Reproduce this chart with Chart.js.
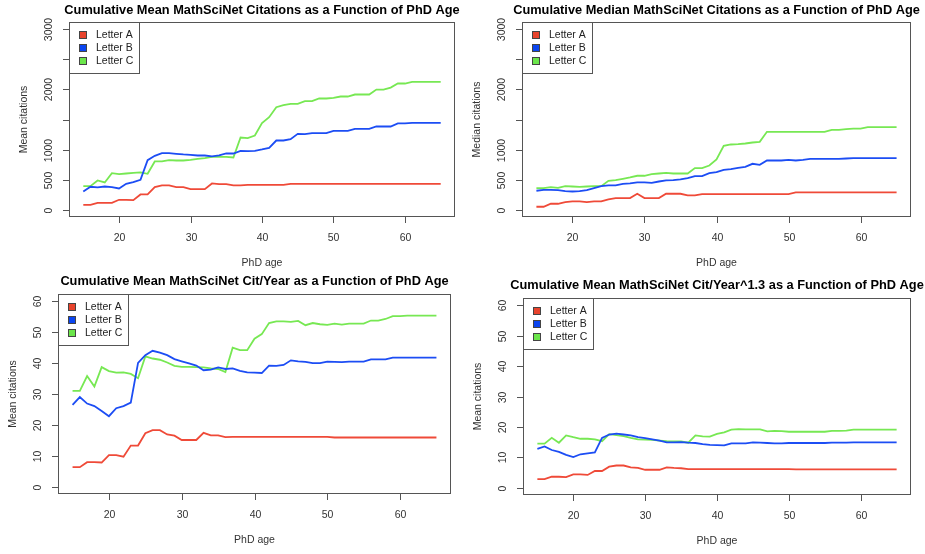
<!DOCTYPE html>
<html>
<head>
<meta charset="utf-8">
<script src="https://cdn.jsdelivr.net/npm/chart.js@4.4.0/dist/chart.umd.min.js"></script>
<style>
  html, body { margin: 0; padding: 0; background: #fff; }
  #wrap { position: relative; width: 925px; height: 554px; overflow: hidden; }
  canvas { position: absolute; }
</style>
</head>
<body>
<div id="wrap">
  <canvas id="c1" width="462" height="270" style="left:0;top:0"></canvas>
  <canvas id="c2" width="463" height="270" style="left:462px;top:0"></canvas>
  <canvas id="c3" width="462" height="284" style="left:0;top:270px"></canvas>
  <canvas id="c4" width="463" height="284" style="left:462px;top:270px"></canvas>
</div>
<script>
// PhD age (x) for every series
const ages = [15, 16, 17, 18, 19, 20, 21, 22, 23, 24, 25, 26, 27, 28, 29, 30, 31, 32, 33, 34,
  35, 36, 37, 38, 39, 40, 41, 42, 43, 44, 45, 46, 47, 48, 49, 50, 51, 52, 53, 54,
  55, 56, 57, 58, 59, 60, 61, 62, 63, 64, 65];

const seriesNames = ["Letter A", "Letter B", "Letter C"];

// cumulative mean citations
const meanA = [83, 83, 116, 116, 116, 166, 166, 160, 255, 255, 376, 404, 404, 376, 376, 343, 343, 343, 437, 426,
  426, 404, 404, 415, 415, 415, 415, 415, 415, 432, 432, 432, 432, 432, 432, 432, 432, 432, 432, 432,
  432, 432, 432, 432, 432, 432, 432, 432, 432, 432, 432];
const meanB = [304, 382, 371, 387, 376, 354, 432, 459, 498, 825, 897, 941, 941, 930, 919, 913, 902, 902, 886, 902,
  935, 935, 980, 974, 980, 1002, 1029, 1151, 1151, 1173, 1262, 1256, 1273, 1273, 1273, 1312, 1312, 1312, 1345, 1345,
  1345, 1384, 1384, 1384, 1434, 1434, 1445, 1445, 1445, 1445, 1445];
const meanC = [393, 393, 487, 454, 609, 592, 603, 614, 620, 598, 803, 803, 825, 819, 819, 830, 847, 858, 880, 880,
  880, 869, 1201, 1190, 1234, 1439, 1539, 1705, 1738, 1760, 1760, 1804, 1804, 1849, 1849, 1860, 1882, 1882, 1915, 1915,
  1915, 1998, 1998, 2031, 2098, 2098, 2125, 2125, 2125, 2125, 2125];

// cumulative median citations
const medA = [50, 50, 100, 100, 127, 138, 138, 127, 138, 138, 172, 194, 194, 194, 266, 194, 194, 194, 266, 266,
  266, 238, 238, 260, 260, 260, 260, 260, 260, 260, 260, 260, 260, 260, 260, 260, 288, 288, 288, 288,
  288, 288, 288, 288, 288, 288, 288, 288, 288, 288, 288];
const medB = [316, 332, 332, 327, 310, 304, 310, 327, 360, 393, 404, 404, 432, 437, 454, 454, 448, 470, 487, 493,
  504, 526, 559, 559, 609, 625, 664, 675, 697, 714, 764, 747, 819, 819, 819, 830, 819, 830, 847, 847,
  847, 847, 847, 852, 858, 858, 858, 858, 858, 858, 858];
const medC = [360, 360, 376, 365, 393, 387, 382, 387, 393, 393, 482, 493, 515, 537, 565, 565, 592, 603, 614, 603,
  603, 603, 692, 692, 736, 836, 1063, 1085, 1090, 1101, 1118, 1129, 1295, 1295, 1295, 1295, 1295, 1295, 1295, 1295,
  1295, 1328, 1328, 1339, 1350, 1350, 1373, 1373, 1373, 1373, 1373];

// cumulative mean citations per year
const perYrA = [6.3, 6.3, 7.9, 7.9, 7.8, 10.2, 10.2, 9.7, 13.3, 13.3, 17.3, 18.3, 18.3, 16.9, 16.5, 15.1, 15.1, 15.1, 17.4, 16.6,
  16.6, 16.0, 16.1, 16.1, 16.1, 16.1, 16.1, 16.1, 16.1, 16.1, 16.1, 16.1, 16.1, 16.1, 16.1, 16.1, 15.9, 15.9, 15.9, 15.9,
  15.9, 15.9, 15.9, 15.9, 15.9, 15.9, 15.9, 15.9, 15.9, 15.9, 15.9];
const perYrB = [26.5, 29.0, 26.9, 26.1, 24.5, 22.8, 25.4, 26.1, 27.2, 40.1, 42.6, 44.0, 43.4, 42.6, 41.3, 40.6, 39.9, 39.2, 37.7, 37.9,
  38.6, 38.1, 38.3, 37.5, 37.0, 36.9, 36.8, 39.2, 39.1, 39.4, 40.9, 40.6, 40.4, 40.0, 40.0, 40.5, 40.4, 40.3, 40.5, 40.5,
  40.5, 41.2, 41.2, 41.2, 41.8, 41.8, 41.8, 41.8, 41.8, 41.8, 41.8];
const perYrC = [31.0, 31.0, 35.8, 32.4, 38.7, 37.4, 36.9, 37.0, 36.5, 35.1, 42.2, 41.5, 41.1, 40.2, 39.1, 38.8, 38.8, 38.7, 38.6, 38.3,
  38.1, 37.1, 45.0, 44.2, 44.2, 47.9, 49.4, 53.0, 53.5, 53.5, 53.4, 53.7, 52.3, 53.0, 52.6, 52.4, 52.8, 52.5, 52.8, 52.8,
  52.8, 53.8, 53.8, 54.3, 55.2, 55.2, 55.4, 55.4, 55.4, 55.4, 55.4];

// cumulative mean citations per year^1.3
const perYr13A = [2.8, 2.8, 3.6, 3.6, 3.5, 4.4, 4.4, 4.2, 5.5, 5.5, 6.9, 7.3, 7.3, 6.7, 6.5, 5.9, 5.9, 5.9, 6.7, 6.5,
  6.4, 6.1, 6.1, 6.1, 6.1, 6.1, 6.1, 6.1, 6.1, 6.1, 6.1, 6.1, 6.1, 6.1, 6.1, 6.1, 6.0, 6.0, 6.0, 6.0,
  6.0, 6.0, 6.0, 6.0, 6.0, 6.0, 6.0, 6.0, 6.0, 6.0, 6.0];
const perYr13B = [12.8, 13.6, 12.4, 11.8, 10.8, 10.1, 11.0, 11.3, 11.6, 16.4, 17.5, 17.8, 17.5, 17.2, 16.6, 16.3, 15.9, 15.5, 14.9, 14.9,
  15.0, 14.8, 14.7, 14.3, 14.1, 14.0, 13.9, 14.6, 14.6, 14.6, 14.9, 14.8, 14.7, 14.6, 14.6, 14.7, 14.7, 14.7, 14.7, 14.7,
  14.7, 14.8, 14.8, 14.8, 14.9, 14.9, 14.9, 14.9, 14.9, 14.9, 14.9];
const perYr13C = [14.5, 14.5, 16.4, 14.8, 17.2, 16.6, 16.1, 16.1, 15.9, 15.3, 17.6, 17.3, 17.0, 16.4, 15.9, 15.8, 15.7, 15.5, 15.3, 15.2,
  15.2, 14.8, 17.2, 16.9, 16.8, 17.7, 18.2, 19.1, 19.3, 19.2, 19.2, 19.2, 18.5, 18.7, 18.6, 18.4, 18.4, 18.4, 18.4, 18.4,
  18.4, 18.7, 18.7, 18.8, 19.1, 19.1, 19.1, 19.1, 19.1, 19.1, 19.1];

// axis ticks
const ageTicks = [20, 30, 40, 50, 60];
const citeTicks = [0, 500, 1000, 1500, 2000, 2500, 3000];
const citeTickLabels = ["0", "500", "1000", "", "2000", "", "3000"];
const rateTicks = [0, 10, 20, 30, 40, 50, 60];
const rateTickLabels = ["0", "10", "20", "30", "40", "50", "60"];

const lineColors = ["#EF4A38", "#1C4DF4", "#77E853"];
const boxColors = ["#E8432C", "#0B45F0", "#6BE64B"];
const FONT = '"Liberation Sans", Arial, Helvetica, sans-serif';

// draws the base-graphics look: box, outward ticks, rotated y labels, titles, legend
const rStyle = {
  id: "rStyle",
  afterDraw(chart, args, o) {
    const ctx = chart.ctx;
    const a = chart.chartArea;
    const xs = chart.scales.x, ys = chart.scales.y;
    ctx.save();
    ctx.strokeStyle = "#555";
    ctx.lineWidth = 1;
    ctx.strokeRect(Math.round(a.left) + 0.5, Math.round(a.top) + 0.5,
      Math.round(a.right - a.left) - 1, Math.round(a.bottom - a.top) - 1);

    ctx.fillStyle = "#333";
    ctx.font = "10.5px " + FONT;
    ctx.textAlign = "center";
    ctx.textBaseline = "middle";
    o.xTicks.forEach(v => {
      const px = Math.round(xs.getPixelForValue(v)) + 0.5;
      ctx.beginPath();
      ctx.moveTo(px, a.bottom);
      ctx.lineTo(px, a.bottom + 6);
      ctx.stroke();
      ctx.fillText(String(v), px, a.bottom + 21);
    });
    o.yTicks.forEach((v, i) => {
      const py = Math.round(ys.getPixelForValue(v)) + 0.5;
      ctx.beginPath();
      ctx.moveTo(a.left, py);
      ctx.lineTo(a.left - 6, py);
      ctx.stroke();
      if (o.yLabels[i]) {
        ctx.save();
        ctx.translate(a.left - 20, py);
        ctx.rotate(-Math.PI / 2);
        ctx.fillText(o.yLabels[i], 0, 0);
        ctx.restore();
      }
    });

    // axis titles
    ctx.fillText("PhD age", (a.left + a.right) / 2, a.bottom + 46);
    ctx.save();
    ctx.translate(a.left - 45, (a.top + a.bottom) / 2);
    ctx.rotate(-Math.PI / 2);
    ctx.fillText(o.yTitle, 0, 0);
    ctx.restore();

    // main title
    ctx.fillStyle = "#000";
    ctx.font = "bold 12.8px " + FONT;
    ctx.fillText(o.title, (a.left + a.right) / 2, a.top - o.titleGap);

    // legend
    const lw = 70, lh = 51;
    ctx.fillStyle = "#fff";
    ctx.fillRect(a.left, a.top, lw, lh);
    ctx.strokeStyle = "#555";
    ctx.strokeRect(Math.round(a.left) + 0.5, Math.round(a.top) + 0.5, lw, lh);
    ctx.font = "10.5px " + FONT;
    ctx.textAlign = "left";
    chart.data.datasets.forEach((ds, i) => {
      const cy = Math.round(a.top + 13 + i * 13);
      ctx.fillStyle = boxColors[i];
      ctx.fillRect(Math.round(a.left) + 10, cy - 4, 8, 8);
      ctx.strokeStyle = "#444";
      ctx.strokeRect(Math.round(a.left) + 10.5, cy - 3.5, 7, 7);
      ctx.fillStyle = "#222";
      ctx.fillText(ds.label, a.left + 27, cy + 0.5);
    });
    ctx.restore();
  }
};

function makePanel(id, pad, yMin, yMax, series, opts) {
  const datasets = series.map((vals, i) => ({
    label: seriesNames[i],
    data: ages.map((age, j) => ({ x: age, y: vals[j] })),
    borderColor: lineColors[i],
    borderWidth: 1.8,
    pointRadius: 0,
    tension: 0,
    fill: false
  }));
  return new Chart(document.getElementById(id), {
    type: "line",
    data: { datasets: datasets },
    options: {
      responsive: false,
      animation: false,
      events: [],
      layout: { padding: pad },
      scales: {
        x: { type: "linear", min: 13, max: 67, display: false },
        y: { type: "linear", min: yMin, max: yMax, display: false }
      },
      plugins: {
        legend: { display: false },
        tooltip: { enabled: false },
        title: { display: false },
        rStyle: opts
      }
    },
    plugins: [rStyle]
  });
}

makePanel("c1", { left: 69, top: 22, right: 7, bottom: 53 }, -120, 3120, [meanA, meanB, meanC], {
  title: "Cumulative Mean MathSciNet Citations as a Function of PhD Age",
  yTitle: "Mean citations", titleGap: 12,
  xTicks: ageTicks, yTicks: citeTicks, yLabels: citeTickLabels
});
makePanel("c2", { left: 60, top: 22, right: 14, bottom: 53 }, -120, 3120, [medA, medB, medC], {
  title: "Cumulative Median MathSciNet Citations as a Function of PhD Age",
  yTitle: "Median citations", titleGap: 12,
  xTicks: ageTicks, yTicks: citeTicks, yLabels: citeTickLabels
});
makePanel("c3", { left: 58, top: 24, right: 11, bottom: 60 }, -2.4, 62.4, [perYrA, perYrB, perYrC], {
  title: "Cumulative Mean MathSciNet Cit/Year as a Function of PhD Age",
  yTitle: "Mean citations", titleGap: 12.5,
  xTicks: ageTicks, yTicks: rateTicks, yLabels: rateTickLabels
});
makePanel("c4", { left: 61, top: 28, right: 14, bottom: 59 }, -2.4, 62.4, [perYr13A, perYr13B, perYr13C], {
  title: "Cumulative Mean MathSciNet Cit/Year^1.3 as a Function of PhD Age",
  yTitle: "Mean citations", titleGap: 13,
  xTicks: ageTicks, yTicks: rateTicks, yLabels: rateTickLabels
});
</script>
</body>
</html>
